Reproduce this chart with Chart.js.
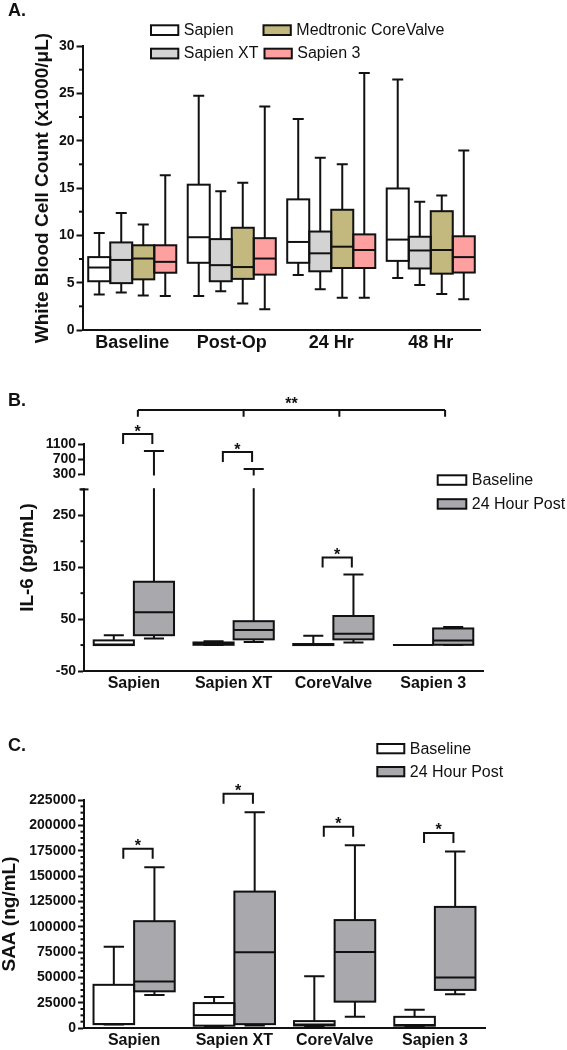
<!DOCTYPE html>
<html>
<head>
<meta charset="utf-8">
<title>WBC, IL-6 and SAA by valve type</title>
<script src="https://cdn.jsdelivr.net/npm/chart.js@4.4.1/dist/chart.umd.min.js"></script>
<style>
  html, body { margin: 0; padding: 0; background: #fff; }
  body { position: relative; width: 567px; height: 1050px; overflow: hidden; }
  .panel { position: absolute; left: 0; width: 567px; }
  #panelA { top: 0; height: 360px; }
  #panelB { top: 360px; height: 340px; }
  #panelC { top: 700px; height: 350px; }
</style>
</head>
<body>
<div class="panel" id="panelA"><canvas id="wbcChart"></canvas></div>
<div class="panel" id="panelB"><canvas id="il6Chart"></canvas></div>
<div class="panel" id="panelC"><canvas id="saaChart"></canvas></div>
<script>
// box stats are [min, q1, median, q3, max]

// A. white blood cells
const wbcTimes = ['Baseline', 'Post-Op', '24 Hr', '48 Hr'];
const wbcValves = ['Sapien', 'Sapien XT', 'Medtronic CoreValve', 'Sapien 3'];
const wbcSapien = [[3.75, 5.15, 6.6, 7.7, 10.25], [3.6, 7.1, 9.8, 15.35, 24.75], [5.8, 7.1, 9.3, 13.8, 22.3], [5.5, 7.3, 9.55, 14.95, 26.45]];
const wbcSapienXT = [[3.95, 4.95, 7.4, 9.25, 12.35], [4.1, 5.15, 6.85, 9.6, 14.65], [4.3, 6.2, 8.1, 10.4, 18.2], [4.75, 6.5, 8.4, 9.85, 13.55]];
const wbcCoreValve = [[3.65, 5.35, 7.55, 8.95, 11.15], [2.8, 5.4, 6.65, 10.8, 15.55], [3.4, 6.55, 8.8, 12.7, 17.5], [3.8, 5.95, 8.45, 12.55, 14.2]];
const wbcSapien3 = [[3.6, 6.05, 7.2, 8.95, 16.35], [2.2, 5.85, 7.55, 9.7, 23.6], [3.4, 6.55, 8.45, 10.1, 27.15], [3.25, 6.07, 7.7, 9.9, 18.95]];
const wbcTicks = [0, 5, 10, 15, 20, 25, 30];

// B. IL-6 (broken axis at 300)
const il6Groups = ['Sapien', 'Sapien XT', 'CoreValve', 'Sapien 3'];
const il6Series = ['Baseline', '24 Hour Post'];
const il6Baseline = [[0, 0, 1, 9, 19], [0, 0.5, 2, 5, 7.5], [0, 0, 0.5, 2, 18], [0, 0, 0, 0, 0]];
const il6Post24 = [[12.5, 19, 63, 122, 915], [6, 11, 29, 46, 440], [5, 11, 22, 56, 136], [0, 0.5, 9, 32, 35]];
const il6TickValues = [-50, 0, 50, 100, 150, 200, 250, 300, 300, 700, 1100];
const il6TickLabels = ['-50', '', '50', '', '150', '', '250', '', '300', '700', '1100'];
const il6Significant = [0, 1, 2];

// C. SAA
const saaGroups = ['Sapien', 'Sapien XT', 'CoreValve', 'Sapien 3'];
const saaSeries = ['Baseline', '24 Hour Post'];
const saaBaseline = [[3500, 3800, 4000, 42600, 80200], [1500, 2300, 12800, 24600, 30600], [1500, 2500, 3500, 6800, 51000], [1500, 2300, 3000, 11000, 18000]];
const saaPost24 = [[32500, 36200, 46000, 105400, 158700], [2500, 3800, 74800, 134600, 212900], [11200, 26000, 75000, 106500, 180300], [33300, 37600, 49800, 119500, 174300]];
const saaTicks = [0, 25000, 50000, 75000, 100000, 125000, 150000, 175000, 200000, 225000];
const saaSignificant = [0, 1, 2, 3];

const INK = '#111';
const FONT = "'Liberation Sans', Arial, Helvetica, sans-serif";

// linear scale with a gap: values up to axisBreak.at go in the lower part, the rest in the upper part
class BrokenLinearScale extends Chart.LinearScale {
    static id = 'brokenLinear';
    static defaults = Chart.LinearScale.defaults;

    buildTicks() {
        const bt = this.options.brokenTicks;
        return bt.values.map((value, i) => ({ value, upper: i >= bt.upperFrom }));
    }
    breakPixels() {
        const b = this.options.axisBreak;
        const h = this.bottom - this.top;
        return { lowerTop: this.bottom - h * b.lowerShare, upperBase: this.top + h * b.upperShare };
    }
    getPixelForValue(value) {
        const at = this.options.axisBreak.at;
        const { lowerTop, upperBase } = this.breakPixels();
        if (value <= at) {
            return this.bottom - (value - this.min) / (at - this.min) * (this.bottom - lowerTop);
        }
        return upperBase - (value - at) / (this.max - at) * (upperBase - this.top);
    }
    getPixelForTick(index) {
        const tick = this.ticks[index];
        if (tick.upper && tick.value <= this.options.axisBreak.at) return this.breakPixels().upperBase;
        return this.getPixelForValue(tick.value);
    }
}
Chart.register(BrokenLinearScale);

function withMinor(major, parts) {
    const out = [];
    major.forEach((v, i) => {
        out.push(v);
        if (i < major.length - 1) {
            for (let k = 1; k < parts; k++) out.push(v + (major[i + 1] - v) * k / parts);
        }
    });
    return out;
}

function boxDataset(label, stats, color) {
    return {
        label,
        stats,
        data: stats.map(s => [s[1], s[3]]),
        backgroundColor: color,
        borderWidth: 0,
        barPercentage: 1
    };
}

// whiskers, caps, box outline and median line
const boxPlotPlugin = {
    id: 'boxPlot',
    afterDatasetsDraw(chart) {
        const { ctx } = chart;
        const y = chart.scales.y;
        ctx.save();
        ctx.strokeStyle = INK;
        ctx.lineWidth = 2;
        chart.data.datasets.forEach((ds, di) => {
            chart.getDatasetMeta(di).data.forEach((bar, i) => {
                const [mn, q1, med, q3, mx] = ds.stats[i];
                const { x, width } = bar.getProps(['x', 'width'], true);
                const left = x - width / 2;
                const cap = width / 4;
                const pMin = y.getPixelForValue(mn), pQ1 = y.getPixelForValue(q1);
                const pMed = y.getPixelForValue(med), pQ3 = y.getPixelForValue(q3);
                const pMax = y.getPixelForValue(mx);
                ctx.beginPath();
                if (mx > q3) {
                    ctx.moveTo(x, pQ3); ctx.lineTo(x, pMax);
                    ctx.moveTo(x - cap, pMax); ctx.lineTo(x + cap, pMax);
                }
                if (mn < q1) {
                    ctx.moveTo(x, pQ1); ctx.lineTo(x, pMin);
                    ctx.moveTo(x - cap, pMin); ctx.lineTo(x + cap, pMin);
                }
                ctx.stroke();
                ctx.strokeRect(left, pQ3, width, pQ1 - pQ3);
                ctx.beginPath();
                ctx.moveTo(left, pMed); ctx.lineTo(left + width, pMed);
                ctx.stroke();
            });
        });
        ctx.restore();
    }
};

// short unlabelled ticks on the y axis
const minorTickPlugin = {
    id: 'minorTicks',
    afterDraw(chart) {
        const { ctx, chartArea } = chart;
        const y = chart.scales.y;
        ctx.save();
        ctx.strokeStyle = INK;
        ctx.lineWidth = 2;
        y.ticks.forEach((t, i) => {
            if (t.label !== '') return;
            const py = y.getPixelForTick(i);
            ctx.beginPath();
            ctx.moveTo(chartArea.left - 3.5, py);
            ctx.lineTo(chartArea.left, py);
            ctx.stroke();
        });
        ctx.restore();
    }
};

function makeLegend(items, box) {
    return {
        id: 'boxLegend',
        afterDraw(chart) {
            const { ctx } = chart;
            ctx.save();
            ctx.font = `16px ${FONT}`;
            ctx.textBaseline = 'middle';
            ctx.textAlign = 'left';
            items.forEach(it => {
                const ds = chart.data.datasets[it.index];
                ctx.fillStyle = ds.backgroundColor;
                ctx.fillRect(it.x + 1, it.y + 1, box[0] - 2, box[1] - 2);
                ctx.strokeStyle = INK;
                ctx.lineWidth = 2;
                ctx.strokeRect(it.x + 1, it.y + 1, box[0] - 2, box[1] - 2);
                ctx.fillStyle = INK;
                ctx.fillText(ds.label, it.x + box[0] + 4.5, it.y + box[1] / 2 + 0.5);
            });
            ctx.restore();
        }
    };
}

function makeTag(text, x, y) {
    return {
        id: 'panelTag',
        afterDraw(chart) {
            const { ctx } = chart;
            ctx.save();
            ctx.font = `bold 18px ${FONT}`;
            ctx.fillStyle = INK;
            ctx.textBaseline = 'middle';
            ctx.textAlign = 'left';
            ctx.fillText(text, x, y);
            ctx.restore();
        }
    };
}

// "*" brackets over Baseline vs 24 Hour Post pairs
function makeBrackets(cats, gap, opts) {
    return {
        id: 'sigBrackets',
        afterDraw(chart) {
            const { ctx, chartArea } = chart;
            const { x, y } = chart.scales;
            const step = (x.right - x.left) / chart.data.labels.length;
            const post = chart.data.datasets[1].stats;
            ctx.save();
            ctx.strokeStyle = INK;
            ctx.fillStyle = INK;
            ctx.lineWidth = 2;
            ctx.textAlign = 'center';
            ctx.textBaseline = 'alphabetic';
            ctx.font = `bold 16px ${FONT}`;
            cats.forEach(i => {
                const xc = x.getPixelForValue(i);
                const x1 = xc - 0.108 * step, x2 = xc + 0.185 * step;
                const legBottom = y.getPixelForValue(post[i][4]) - gap;
                const top = legBottom - 10;
                ctx.beginPath();
                ctx.moveTo(x1, legBottom); ctx.lineTo(x1, top); ctx.lineTo(x2, top); ctx.lineTo(x2, legBottom);
                ctx.stroke();
                ctx.fillText('*', (x1 + x2) / 2, top + 2.5);
            });
            if (opts && opts.overall) {
                const o = opts.overall;
                const top = chartArea.top - o.rise;
                const xs = o.offsets.map((f, i) => x.getPixelForValue(i) + f * step);
                ctx.beginPath();
                ctx.moveTo(xs[0], top); ctx.lineTo(xs[xs.length - 1], top);
                xs.forEach(px => { ctx.moveTo(px, top); ctx.lineTo(px, top + o.leg); });
                ctx.stroke();
                ctx.fillText('**', (xs[0] + xs[xs.length - 1]) / 2, top - 1);
            }
            ctx.restore();
        }
    };
}

// white gap across the axis break plus the cap at the top of the lower part
const il6BreakPlugin = {
    id: 'il6Break',
    afterDatasetsDraw(chart) {
        const { ctx, chartArea } = chart;
        const { lowerTop, upperBase } = chart.scales.y.breakPixels();
        ctx.save();
        ctx.fillStyle = '#fff';
        ctx.fillRect(chartArea.left - 4, upperBase + 1.2, chartArea.right - chartArea.left + 4, lowerTop - upperBase - 2.4);
        ctx.strokeStyle = INK;
        ctx.lineWidth = 2;
        ctx.beginPath();
        ctx.moveTo(chartArea.left - 4.5, lowerTop);
        ctx.lineTo(chartArea.left + 4.5, lowerTop);
        ctx.stroke();
        ctx.restore();
    }
};

function categoryAxis(size, pad, height) {
    return {
        grid: { display: true, drawOnChartArea: false, drawTicks: false },
        border: { color: INK, width: 2 },
        ticks: { color: INK, padding: pad, font: { family: FONT, size, weight: 'bold' } },
        afterFit: s => { s.height = height; }
    };
}

function valueAxis(cfg) {
    return Object.assign({
        grid: {
            drawOnChartArea: false,
            tickLength: 6,
            tickWidth: 2,
            tickColor: c => (c.tick && c.tick.label === '' ? 'rgba(0,0,0,0)' : INK)
        },
        border: { color: INK, width: 2 },
        ticks: {
            autoSkip: false,
            padding: 2,
            color: INK,
            font: { family: FONT, size: cfg.tickSize, weight: 'bold' },
            callback: cfg.callback
        },
        title: {
            display: true,
            text: cfg.title,
            color: INK,
            font: { family: FONT, size: 19, weight: 'bold', lineHeight: 1 },
            padding: { top: cfg.titlePad, bottom: 0 }
        },
        afterFit: s => { s.width = cfg.width; }
    }, cfg.extra);
}

const common = {
    responsive: true,
    maintainAspectRatio: false,
    animation: false,
    devicePixelRatio: 1,
    events: []
};

// ---- A ----
new Chart(document.getElementById('wbcChart'), {
    type: 'bar',
    data: {
        labels: wbcTimes,
        datasets: [
            boxDataset(wbcValves[0], wbcSapien, '#ffffff'),
            boxDataset(wbcValves[1], wbcSapienXT, '#d3d3d3'),
            boxDataset(wbcValves[2], wbcCoreValve, '#c3b87d'),
            boxDataset(wbcValves[3], wbcSapien3, '#ffa0a0')
        ]
    },
    options: Object.assign({}, common, {
        layout: { padding: { left: 0, right: 86.5, top: 46, bottom: 4 } },
        datasets: { bar: { categoryPercentage: 0.885 } },
        plugins: { legend: { display: false }, tooltip: { enabled: false } },
        scales: {
            x: categoryAxis(18, 2, 26),
            y: valueAxis({
                title: 'White Blood Cell Count (x1000/\u03BCL)',
                tickSize: 14,
                titlePad: 33,
                width: 82.5,
                callback: v => (wbcTicks.includes(v) ? String(v) : ''),
                extra: {
                    min: wbcTicks[0],
                    max: wbcTicks[wbcTicks.length - 1],
                    afterBuildTicks: s => { s.ticks = withMinor(wbcTicks, 2).map(value => ({ value })); }
                }
            })
        }
    }),
    plugins: [
        boxPlotPlugin,
        minorTickPlugin,
        makeLegend([
            { index: 0, x: 150, y: 24.3 },
            { index: 2, x: 262.5, y: 24.3 },
            { index: 1, x: 150, y: 47.7 },
            { index: 3, x: 263.5, y: 47.7 }
        ], [29.3, 11.7]),
        makeTag('A.', 8, 11)
    ]
});

// ---- B ----
new Chart(document.getElementById('il6Chart'), {
    type: 'bar',
    data: {
        labels: il6Groups,
        datasets: [
            boxDataset(il6Series[0], il6Baseline, '#ffffff'),
            boxDataset(il6Series[1], il6Post24, '#a8a8ad')
        ]
    },
    options: Object.assign({}, common, {
        layout: { padding: { left: 0, right: 84, top: 84, bottom: 5 } },
        datasets: { bar: { categoryPercentage: 0.805 } },
        plugins: { legend: { display: false }, tooltip: { enabled: false } },
        scales: {
            x: categoryAxis(16, 2.5, 24),
            y: valueAxis({
                title: 'IL-6 (pg/mL)',
                tickSize: 14,
                titlePad: 18.5,
                width: 84,
                callback: (v, i) => il6TickLabels[i],
                extra: {
                    type: 'brokenLinear',
                    min: il6TickValues[0],
                    max: il6TickValues[il6TickValues.length - 1],
                    brokenTicks: { values: il6TickValues, upperFrom: 8 },
                    axisBreak: { at: 300, lowerShare: 0.8, upperShare: 0.1335 }
                }
            })
        }
    }),
    plugins: [
        boxPlotPlugin,
        il6BreakPlugin,
        minorTickPlugin,
        makeBrackets(il6Significant, 7, { overall: { rise: 34, leg: 6.7, offsets: [0.04, 0.1, 0.06, 0.12] } }),
        makeLegend([
            { index: 0, x: 436.7, y: 114.3 },
            { index: 1, x: 436.7, y: 138.2 }
        ], [30.6, 11.5]),
        makeTag('B.', 8, 41.5)
    ]
});

// ---- C ----
new Chart(document.getElementById('saaChart'), {
    type: 'bar',
    data: {
        labels: saaGroups,
        datasets: [
            boxDataset(saaSeries[0], saaBaseline, '#ffffff'),
            boxDataset(saaSeries[1], saaPost24, '#a8a8ad')
        ]
    },
    options: Object.assign({}, common, {
        layout: { padding: { left: 0, right: 82, top: 100, bottom: 0 } },
        datasets: { bar: { categoryPercentage: 0.81 } },
        plugins: { legend: { display: false }, tooltip: { enabled: false } },
        scales: {
            x: categoryAxis(16, 2.5, 22),
            y: valueAxis({
                title: 'SAA (ng/mL)',
                tickSize: 14,
                titlePad: 0.5,
                width: 84,
                callback: v => (saaTicks.includes(v) ? String(v) : ''),
                extra: {
                    min: saaTicks[0],
                    max: saaTicks[saaTicks.length - 1],
                    afterBuildTicks: s => { s.ticks = withMinor(saaTicks, 4).map(value => ({ value })); }
                }
            })
        }
    }),
    plugins: [
        boxPlotPlugin,
        minorTickPlugin,
        makeBrackets(saaSignificant, 8.5),
        makeLegend([
            { index: 0, x: 376.3, y: 43 },
            { index: 1, x: 376.3, y: 66 }
        ], [29, 11.3]),
        makeTag('C.', 8, 46.5)
    ]
});
</script>
</body>
</html>
